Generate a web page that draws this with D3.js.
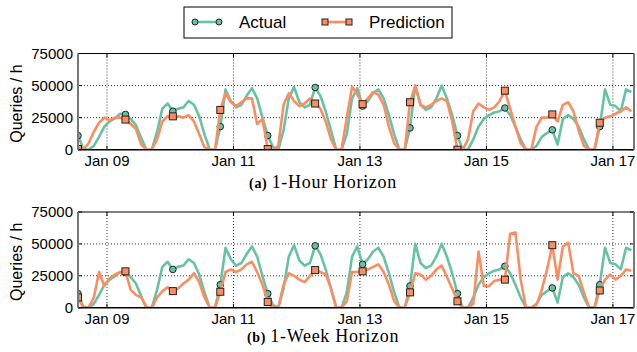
<!DOCTYPE html>
<html>
<head>
<meta charset="utf-8">
<script src="https://cdn.jsdelivr.net/npm/d3@7"></script>
<style>
  body { margin: 0; background: #fff; }
  svg { display: block; }
</style>
</head>
<body>
<svg id="chart" width="637" height="352"></svg>
<script>
// samples every 2 hours, starting Jan 8 13:00
const startTime = new Date(2017, 0, 8, 13);
const stepHours = 2;
const markEvery = 9; // one marker per 18 h

const actual = [
  11000, 1000, 0, 3000, 10000, 18000, 22000, 24500, 28000,
  27500, 24000, 19000, 9000, 0, 0, 14000, 32000, 36000,
  30000, 32000, 33000, 38000, 35000, 26000, 12000, 0, 0,
  18000, 47000, 38000, 33000, 35000, 42000, 48000, 40000, 25000,
  11000, 2000, 0, 15000, 40000, 49000, 37000, 33000, 35000,
  48500, 42000, 30000, 15000, 0, 0, 12000, 40000, 48000,
  34000, 38000, 44000, 47000, 40000, 27000, 12000, 0, 0,
  17000, 50000, 35000, 31000, 33000, 40000, 50000, 40000, 27000,
  11000, 0, 0, 8000, 18000, 24000, 27000, 29000, 30000,
  32500, 27000, 18000, 8000, 0, 0, 3000, 10000, 13000,
  15500, 4000, 24000, 27000, 24000, 18000, 8000, 0, 0,
  18000, 47000, 35000, 34000, 30000, 47000, 45000
];

const predHour = [
  500, 0, 5000, 14000, 21000, 25000, 23000, 25000, 25000,
  23500, 20000, 16000, 4000, 0, 0, 8000, 22000, 26000,
  26000, 26000, 25000, 27000, 22000, 12000, 2000, 0, 0,
  31000, 44000, 37000, 34000, 37000, 40000, 40000, 20000, 24000,
  500, 0, 3000, 35000, 44000, 38000, 34000, 36000, 40000,
  36000, 32000, 22000, 8000, 0, 0, 25000, 49000, 43000,
  35500, 40000, 45000, 43000, 35000, 18000, 5000, 0, 0,
  37000, 50000, 35000, 33000, 35000, 38000, 40000, 38000, 22000,
  0, 0, 8000, 30000, 36000, 33000, 31000, 33000, 38000,
  46000, 32000, 18000, 5000, 0, 0, 18000, 25000, 25000,
  27500, 22000, 35000, 37000, 30000, 15000, 3000, 0, 0,
  21000, 25000, 26000, 28000, 30000, 33000, 30000
];

const predWeek = [
  8000, 0, 0, 8000, 28000, 17000, 23000, 26000, 28000,
  28500, 14000, 10000, 8000, 0, 0, 8000, 13000, 16000,
  13000, 15000, 19000, 22000, 27000, 20000, 8000, 0, 0,
  12500, 28000, 30000, 28000, 30000, 34000, 36000, 28000, 18000,
  4500, 0, 0, 18000, 27000, 25000, 22000, 20000, 25000,
  29500, 28000, 26000, 15000, 0, 0, 5000, 28000, 28000,
  28500, 30000, 32000, 34000, 28000, 18000, 5000, 0, 0,
  12000, 27000, 26000, 22000, 25000, 30000, 33000, 24000, 15000,
  5000, 0, 0, 3000, 44000, 17000, 17000, 21000, 22000,
  22000, 58000, 59000, 22000, 0, 0, 2000, 14000, 30000,
  49000, 22000, 48000, 51000, 27000, 25000, 12000, 0, 0,
  13500, 22000, 26000, 22000, 25000, 30000, 29000
];

const yTicks = [0, 25000, 50000, 75000];
const xTickDays = [9, 11, 13, 15, 17];
const seriesNames = ["Actual", "Prediction"];
const captionTags = ["(a)", "(b)"];
const captionTexts = ["1-Hour Horizon", "1-Week Horizon"];

const colors = { actual: "#66c2a5", pred: "#fc8d62" };
const svg = d3.select("#chart");

const x = d3.scaleTime()
  .domain([startTime, d3.timeHour.offset(startTime, 211)])
  .range([78, 634]);

const timeOf = (i) => d3.timeHour.offset(startTime, i * stepHours);
const xTicks = xTickDays.map((d) => new Date(2017, 0, d));

const panels = [
  { top: 53.5, bottom: 149.7, pred: predHour, captionY: 188 },
  { top: 212, bottom: 307.7, pred: predWeek, captionY: 342 }
];

function drawMarkers(g, values, y, kind, color) {
  const pts = values
    .map((v, i) => ({ v, i }))
    .filter((d) => d.i % markEvery === 0);
  if (kind === "circle") {
    g.selectAll(null).data(pts).enter().append("circle")
      .attr("cx", (d) => x(timeOf(d.i)))
      .attr("cy", (d) => y(d.v))
      .attr("r", 3.3)
      .attr("fill", color)
      .attr("stroke", "#222")
      .attr("stroke-width", 1);
  } else {
    g.selectAll(null).data(pts).enter().append("rect")
      .attr("x", (d) => x(timeOf(d.i)) - 3.5)
      .attr("y", (d) => y(d.v) - 3.5)
      .attr("width", 7)
      .attr("height", 7)
      .attr("fill", color)
      .attr("stroke", "#222")
      .attr("stroke-width", 1);
  }
}

panels.forEach((p, k) => {
  const y = d3.scaleLinear().domain([0, 75000]).range([p.bottom, p.top]);
  const [x0, x1] = x.range();
  const g = svg.append("g");

  // dotted grid
  g.selectAll(null).data([25000, 50000]).enter().append("line")
    .attr("x1", x0).attr("x2", x1)
    .attr("y1", (d) => y(d)).attr("y2", (d) => y(d))
    .attr("stroke", "#000").attr("stroke-width", 0.8)
    .attr("stroke-dasharray", "1,2");
  g.selectAll(null).data(xTicks).enter().append("line")
    .attr("x1", (d) => x(d)).attr("x2", (d) => x(d))
    .attr("y1", p.top).attr("y2", p.bottom)
    .attr("stroke", "#000").attr("stroke-width", 0.8)
    .attr("stroke-dasharray", "1,2");

  // tick marks inside the frame
  xTicks.forEach((d) => {
    g.append("line").attr("x1", x(d)).attr("x2", x(d))
      .attr("y1", p.bottom).attr("y2", p.bottom - 4).attr("stroke", "#000");
    g.append("line").attr("x1", x(d)).attr("x2", x(d))
      .attr("y1", p.top).attr("y2", p.top + 4).attr("stroke", "#000");
  });
  yTicks.forEach((d) => {
    g.append("line").attr("x1", x0).attr("x2", x0 + 4)
      .attr("y1", y(d)).attr("y2", y(d)).attr("stroke", "#000");
    g.append("line").attr("x1", x1 - 4).attr("x2", x1)
      .attr("y1", y(d)).attr("y2", y(d)).attr("stroke", "#000");
  });

  const clipId = "clip" + k;
  svg.append("clipPath").attr("id", clipId).append("rect")
    .attr("x", x0).attr("y", p.top)
    .attr("width", x1 - x0).attr("height", p.bottom - p.top);

  const plot = g.append("g").attr("clip-path", `url(#${clipId})`);
  const line = d3.line()
    .x((d, i) => x(timeOf(i)))
    .y((d) => y(d));

  plot.append("path").datum(actual)
    .attr("fill", "none").attr("stroke", colors.actual)
    .attr("stroke-width", 2.6).attr("stroke-linejoin", "round")
    .attr("d", line);
  drawMarkers(plot, actual, y, "circle", colors.actual);

  plot.append("path").datum(p.pred)
    .attr("fill", "none").attr("stroke", colors.pred)
    .attr("stroke-width", 2.6).attr("stroke-linejoin", "round")
    .attr("d", line);
  drawMarkers(plot, p.pred, y, "square", colors.pred);

  // frame
  g.append("line").attr("x1", x0).attr("x2", x1).attr("y1", p.top).attr("y2", p.top)
    .attr("stroke", "#000").attr("stroke-width", 1);
  g.append("line").attr("x1", x0).attr("x2", x1).attr("y1", p.bottom).attr("y2", p.bottom)
    .attr("stroke", "#000").attr("stroke-width", 1.5);
  [x0, x1].forEach((xx) => {
    g.append("line").attr("x1", xx).attr("x2", xx).attr("y1", p.top).attr("y2", p.bottom)
      .attr("stroke", "#777").attr("stroke-width", 2);
  });

  // tick labels
  g.selectAll(null).data(yTicks).enter().append("text")
    .attr("x", x0 - 5).attr("y", (d) => y(d)).attr("dy", "0.36em")
    .attr("text-anchor", "end")
    .style("font", "15px 'Liberation Sans', Arial, sans-serif")
    .text((d) => d);
  g.selectAll(null).data(xTicks).enter().append("text")
    .attr("x", (d) => x(d)).attr("y", p.bottom + 16)
    .attr("text-anchor", "middle")
    .style("font", "15px 'Liberation Sans', Arial, sans-serif")
    .text(d3.timeFormat("%b %d"));

  g.append("text")
    .attr("transform", `translate(22,${(p.top + p.bottom) / 2 + 2}) rotate(-90)`)
    .attr("text-anchor", "middle")
    .style("font", "16px 'Liberation Sans', Arial, sans-serif")
    .text("Queries / h");

  const cap = g.append("text")
    .attr("x", 323).attr("y", p.captionY)
    .attr("text-anchor", "middle")
    .style("font-family", "'Liberation Serif', 'Times New Roman', serif")
    .style("letter-spacing", "0.7px");
  cap.append("tspan").style("font-weight", "bold").style("font-size", "14px")
    .text(captionTags[k] + " ");
  cap.append("tspan").style("font-size", "18px").text(captionTexts[k]);
});

// legend
const leg = svg.append("g");
leg.append("rect").attr("x", 184).attr("y", 7).attr("width", 268).attr("height", 31)
  .attr("fill", "#fff").attr("stroke", "#000").attr("stroke-width", 1);
const legY = 22;
[[195, 219, colors.actual, "circle", 239], [325, 349, colors.pred, "square", 369]]
  .forEach(([a, b, c, kind, tx], i) => {
    leg.append("line").attr("x1", a).attr("x2", b).attr("y1", legY).attr("y2", legY)
      .attr("stroke", c).attr("stroke-width", 2.6);
    [a, b].forEach((xx) => {
      if (kind === "circle") {
        leg.append("circle").attr("cx", xx).attr("cy", legY).attr("r", 3)
          .attr("fill", c).attr("stroke", "#222");
      } else {
        leg.append("rect").attr("x", xx - 3).attr("y", legY - 3)
          .attr("width", 6).attr("height", 6)
          .attr("fill", c).attr("stroke", "#222");
      }
    });
    leg.append("text").attr("x", tx).attr("y", legY).attr("dy", "0.36em")
      .style("font", "17px 'Liberation Sans', Arial, sans-serif")
      .text(seriesNames[i]);
  });
</script>
</body>
</html>
